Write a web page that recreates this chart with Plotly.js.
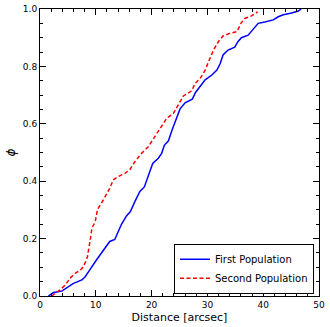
<!DOCTYPE html>
<html>
<head>
<meta charset="utf-8">
<script src="https://cdn.plot.ly/plotly-3.0.1.min.js"></script>
<style>
  html, body { margin: 0; padding: 0; background: #fff; }
  #plot { width: 330px; height: 327px; }
</style>
</head>
<body>
<div id="plot"></div>
<script>
// cumulative fraction vs distance
const firstX = [1.5, 2.4, 3.9, 4.8, 6.0, 7.5, 8.1, 8.5, 9.3, 10.2, 10.75, 11.6, 12.5, 13.4, 14.0, 14.6, 15.5, 16.2, 17.0, 17.9, 18.7, 19.3, 20.2, 21.2, 21.8, 22.3, 23.0, 23.7, 24.3, 25.1, 26.0, 27.3, 27.9, 28.7, 29.6, 30.8, 31.7, 32.3, 32.8, 33.7, 34.9, 35.5, 36.1, 37.3, 38.1, 39.1, 40.3, 41.8, 42.7, 43.6, 45.1, 46.3, 46.8];
const firstY = [0, 0.012, 0.017, 0.029, 0.044, 0.056, 0.067, 0.079, 0.10, 0.128, 0.143, 0.166, 0.19, 0.197, 0.224, 0.25, 0.279, 0.294, 0.329, 0.364, 0.38, 0.41, 0.462, 0.48, 0.497, 0.526, 0.54, 0.58, 0.612, 0.652, 0.673, 0.686, 0.71, 0.73, 0.753, 0.77, 0.787, 0.81, 0.84, 0.857, 0.867, 0.887, 0.90, 0.909, 0.927, 0.95, 0.955, 0.962, 0.973, 0.98, 0.986, 0.993, 1.0];

const secondX = [2.1, 2.7, 3.6, 4.5, 5.4, 6.3, 7.2, 7.8, 8.5, 9.0, 9.3, 9.9, 10.3, 11.0, 12.0, 12.5, 13.1, 14.0, 15.2, 16.1, 17.0, 18.2, 19.4, 20.0, 20.9, 21.8, 22.7, 23.9, 24.8, 25.7, 27.2, 27.8, 28.7, 29.6, 30.2, 31.1, 32.0, 32.8, 34.0, 35.3, 36.0, 36.7, 37.9, 38.8, 39.0];
const secondY = [0, 0.009, 0.021, 0.038, 0.062, 0.079, 0.09, 0.102, 0.137, 0.195, 0.236, 0.259, 0.302, 0.323, 0.358, 0.375, 0.404, 0.416, 0.427, 0.44, 0.468, 0.497, 0.52, 0.538, 0.567, 0.59, 0.619, 0.636, 0.666, 0.697, 0.715, 0.741, 0.758, 0.787, 0.816, 0.857, 0.887, 0.906, 0.915, 0.921, 0.95, 0.967, 0.976, 0.988, 0.99];

const traces = [
    {
        x: firstX,
        y: firstY,
        mode: 'lines',
        name: 'First Population',
        line: {color: '#0000ff', width: 1.5}
    },
    {
        x: secondX,
        y: secondY,
        mode: 'lines',
        name: 'Second Population',
        line: {color: '#ff0000', width: 1.5, dash: '4px,2.5px'}
    }
];

const axisCommon = {
    showgrid: false,
    zeroline: false,
    showline: true,
    linecolor: '#000',
    linewidth: 1,
    mirror: 'allticks',
    ticks: 'inside',
    ticklen: 6,
    tickwidth: 1,
    tickcolor: '#000',
    tickfont: {family: 'DejaVu Sans', size: 9, color: '#000'}
};

const layout = {
    width: 330,
    height: 327,
    margin: {l: 40, r: 11, t: 9, b: 31},
    paper_bgcolor: '#fff',
    plot_bgcolor: '#fff',
    font: {family: 'DejaVu Sans', color: '#000'},
    xaxis: Object.assign({}, axisCommon, {
        range: [0, 50],
        dtick: 10,
        tick0: 0,
        minor: {dtick: 2, ticks: 'inside', ticklen: 3, tickcolor: '#000'},
        title: {text: 'Distance [arcsec]', font: {size: 11}, standoff: 4}
    }),
    yaxis: Object.assign({}, axisCommon, {
        range: [0, 1],
        dtick: 0.2,
        tick0: 0,
        tickformat: '.1f',
        minor: {dtick: 0.05, ticks: 'inside', ticklen: 3, tickcolor: '#000'},
        title: {text: '<i>ϕ</i>', font: {size: 12}, standoff: 4}
    }),
    showlegend: true,
    legend: {
        x: 0.982,
        y: 0.008,
        xanchor: 'right',
        yanchor: 'bottom',
        bgcolor: '#fff',
        bordercolor: '#000',
        borderwidth: 1,
        font: {family: 'DejaVu Sans', size: 10},
        itemwidth: 30,
        tracegroupgap: 0
    }
};

Plotly.newPlot('plot', traces, layout, {displayModeBar: false, staticPlot: true});
</script>
</body>
</html>
